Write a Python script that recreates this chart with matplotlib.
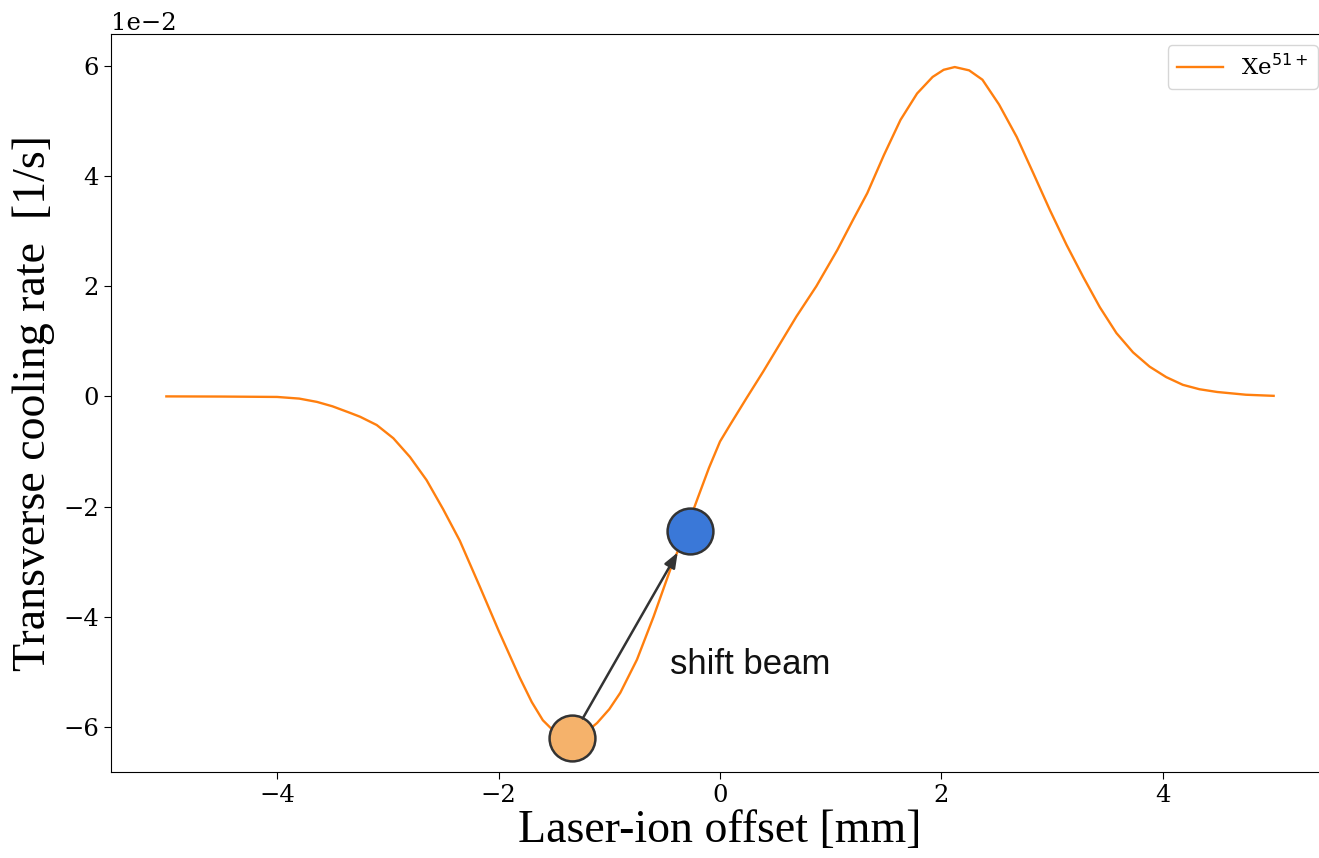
import numpy as np
import matplotlib
matplotlib.use("Agg")
import matplotlib.pyplot as plt

# curve, y in units of 1e-2 1/s
offset_mm = [-5.0, -4.5, -4.0, -3.8, -3.64, -3.5, -3.34, -3.25, -3.1, -2.95,
             -2.8, -2.65, -2.5, -2.35, -2.17, -2.0, -1.81, -1.7, -1.6, -1.5,
             -1.4, -1.3, -1.2, -1.11, -1.0, -0.9, -0.75, -0.6, -0.45, -0.33,
             -0.2, -0.1, 0.0, 0.09, 0.24, 0.39, 0.54, 0.69, 0.87, 1.06,
             1.2, 1.33, 1.48, 1.63, 1.78, 1.92, 2.02, 2.12, 2.25, 2.37,
             2.52, 2.68, 2.83, 2.98, 3.13, 3.28, 3.43, 3.58, 3.73, 3.88,
             4.03, 4.18, 4.33, 4.49, 4.75, 5.0]
rate = [0.0, -0.003, -0.01, -0.04, -0.1, -0.18, -0.3, -0.37, -0.52, -0.76,
        -1.1, -1.52, -2.05, -2.62, -3.45, -4.25, -5.1, -5.55, -5.88, -6.08,
        -6.17, -6.17, -6.08, -5.93, -5.68, -5.38, -4.78, -4.0, -3.15, -2.55,
        -1.84, -1.3, -0.82, -0.52, -0.03, 0.45, 0.95, 1.45, 2.0, 2.66,
        3.2, 3.69, 4.38, 5.02, 5.5, 5.8, 5.93, 5.98, 5.92, 5.75,
        5.3, 4.71, 4.05, 3.38, 2.75, 2.17, 1.62, 1.15, 0.8, 0.54,
        0.35, 0.21, 0.13, 0.08, 0.03, 0.01]

start_pt = (-1.34, -6.2)   # before shift
end_pt = (-0.27, -2.44)    # after shift

x = np.array(offset_mm)
y = np.array(rate) * 1e-2

plt.rcParams['font.family'] = ['DejaVu Serif']

fig = plt.figure(figsize=(13.19, 8.58), dpi=100)
ax = fig.add_axes([111/1319, 86/858, 1218/1319, 738/858])

ax.plot(x, y, color='#ff7f0e', lw=1.7, label=r'Xe$^{51+}$')

ax.plot(start_pt[0], start_pt[1]*1e-2, 'o', ms=33, mfc='#f5b26b', mec='#333333', mew=1.8, zorder=5)
ax.plot(end_pt[0], end_pt[1]*1e-2, 'o', ms=33, mfc='#3a78d8', mec='#333333', mew=1.8, zorder=5)
ax.annotate('', xy=(end_pt[0], end_pt[1]*1e-2), xytext=(start_pt[0], start_pt[1]*1e-2),
            arrowprops=dict(arrowstyle='-|>,head_length=0.9,head_width=0.35', color='#333333',
                            lw=1.8, shrinkA=16, shrinkB=18), zorder=6)
ax.text(-0.45, -4.87e-2, 'shift beam', fontsize=25, family='Liberation Sans',
        va='center', ha='left', color='#111111')

ax.set_xlim(-5.5, 5.5)
ax.set_ylim(-6.82e-2, 6.58e-2)
ax.ticklabel_format(style='sci', axis='y', scilimits=(0, 0))
ax.tick_params(labelsize=17.5, length=5)
ax.yaxis.get_offset_text().set_fontsize(17.5)

ax.set_xlabel('Laser-ion offset [mm]', fontsize=33, family='Liberation Serif', labelpad=2)
ax.set_ylabel('Transverse cooling rate  [1/s]', fontsize=33, family='Liberation Serif', labelpad=6)

ax.legend(loc='upper right', fontsize=16.5)

fig.savefig('out.png', dpi=100)
